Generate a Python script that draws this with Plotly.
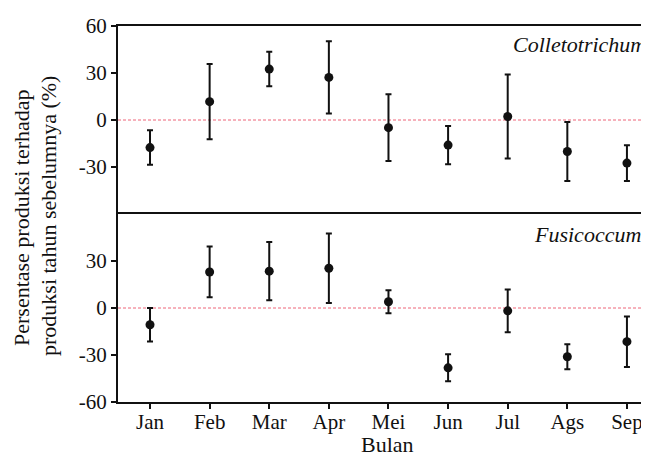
import plotly.graph_objects as go

months = ["Jan", "Feb", "Mar", "Apr", "Mei", "Jun", "Jul", "Ags", "Sep"]

colle_mean = [-17.6, 11.7, 32.5, 27.2, -4.9, -16.0, 2.2, -20.1, -27.5]
colle_err = [11.0, 24.0, 11.0, 23.0, 21.3, 12.2, 26.8, 18.8, 11.4]

fusi_mean = [-10.7, 23.0, 23.5, 25.4, 4.0, -38.2, -1.8, -31.1, -21.5]
fusi_err = [10.7, 16.2, 18.6, 22.2, 7.3, 8.6, 13.6, 8.0, 16.1]

y_ticks_top = [-30, 0, 30, 60]
y_ticks_bottom = [-60, -30, 0, 30]

FONT = "Liberation Serif, Times New Roman, serif"
BLACK = "#111111"
PINK = "rgb(238,100,120)"

# the page body has an 8px margin; the figure is sized to fit the 649x459 window
PAGE_OFF = 8
PL, PT, PR, PB = 118, 26, 649, 402   # plot area in window pixels
PW, PH = PR - PL, PB - PT


def px(x):
    return (x - PL) / PW


def py(y):
    return (PB - y) / PH


xpos = list(range(len(months)))

fig = go.Figure()

fig.add_trace(go.Scatter(
    x=xpos, y=colle_mean, mode="markers",
    marker=dict(color=BLACK, size=9),
    error_y=dict(type="data", array=colle_err, color=BLACK, thickness=2, width=3),
    xaxis="x2", yaxis="y2", showlegend=False,
))
fig.add_trace(go.Scatter(
    x=xpos, y=fusi_mean, mode="markers",
    marker=dict(color=BLACK, size=9),
    error_y=dict(type="data", array=fusi_err, color=BLACK, thickness=2, width=3),
    xaxis="x", yaxis="y", showlegend=False,
))

xr = [-0.537, 8.37]
tf = dict(family=FONT, size=21, color=BLACK)
lf = dict(family=FONT, size=22, color=BLACK)
LW = 2
common_x = dict(range=xr, showline=True, linecolor=BLACK, linewidth=LW,
                showgrid=False, zeroline=False, automargin=False)
common_y = dict(range=[-60, 60], showline=True, linecolor=BLACK, linewidth=LW,
                showgrid=False, zeroline=False, ticks="outside", ticklen=5,
                tickwidth=1.5, tickcolor=BLACK, automargin=False, tickfont=tf)

W, H = 649 - PAGE_OFF, 459 - PAGE_OFF

fig.update_layout(
    width=W, height=H,
    margin=dict(l=PL - PAGE_OFF, r=0, t=PT - PAGE_OFF, b=H - (PB - PAGE_OFF)),
    paper_bgcolor="white", plot_bgcolor="white",
    font=tf,
    xaxis=dict(**common_x, mirror=True, domain=[0, 1], anchor="y",
               tickvals=xpos, ticktext=months, ticks="outside", ticklen=5,
               tickwidth=1.5, tickcolor=BLACK, tickfont=tf, ticklabelstandoff=-5),
    xaxis2=dict(**common_x, side="top", domain=[0, 1], anchor="y2",
                showticklabels=False, ticks=""),
    yaxis=dict(**common_y, domain=[0, 0.5], anchor="x", tickvals=y_ticks_bottom,
               ticktext=[str(v) for v in y_ticks_bottom]),
    yaxis2=dict(**common_y, domain=[0.5, 1], anchor="x2", tickvals=y_ticks_top,
                ticktext=[str(v) for v in y_ticks_top]),
    shapes=[
        dict(type="line", xref="x domain", yref="y", x0=0, x1=1, y0=0, y1=0,
             line=dict(color=PINK, width=1, dash="3px,2px"), layer="below"),
        dict(type="line", xref="x2 domain", yref="y2", x0=0, x1=1, y0=0, y1=0,
             line=dict(color=PINK, width=1, dash="3px,2px"), layer="below"),
    ],
    annotations=[
        dict(text="<i>Colletotrichum</i>", xref="paper", yref="paper",
             x=px(511), y=py(45), xanchor="left", yanchor="middle",
             showarrow=False, font=lf),
        dict(text="<i>Fusicoccum</i>", xref="paper", yref="paper",
             x=px(532), y=py(234), xanchor="left", yanchor="middle",
             showarrow=False, font=lf),
        dict(text="Bulan", xref="paper", yref="paper",
             x=px(387), y=py(459), xanchor="center", yanchor="bottom",
             showarrow=False, font=lf),
        dict(text="Persentase produksi terhadap", xref="paper", yref="paper",
             x=px(21), y=py(218), xanchor="center", yanchor="middle",
             textangle=-90, showarrow=False, font=lf),
        dict(text="produksi tahun sebelumnya (%)", xref="paper", yref="paper",
             x=px(49), y=py(216), xanchor="center", yanchor="middle",
             textangle=-90, showarrow=False, font=lf),
    ],
)

fig.write_html("out.html")
